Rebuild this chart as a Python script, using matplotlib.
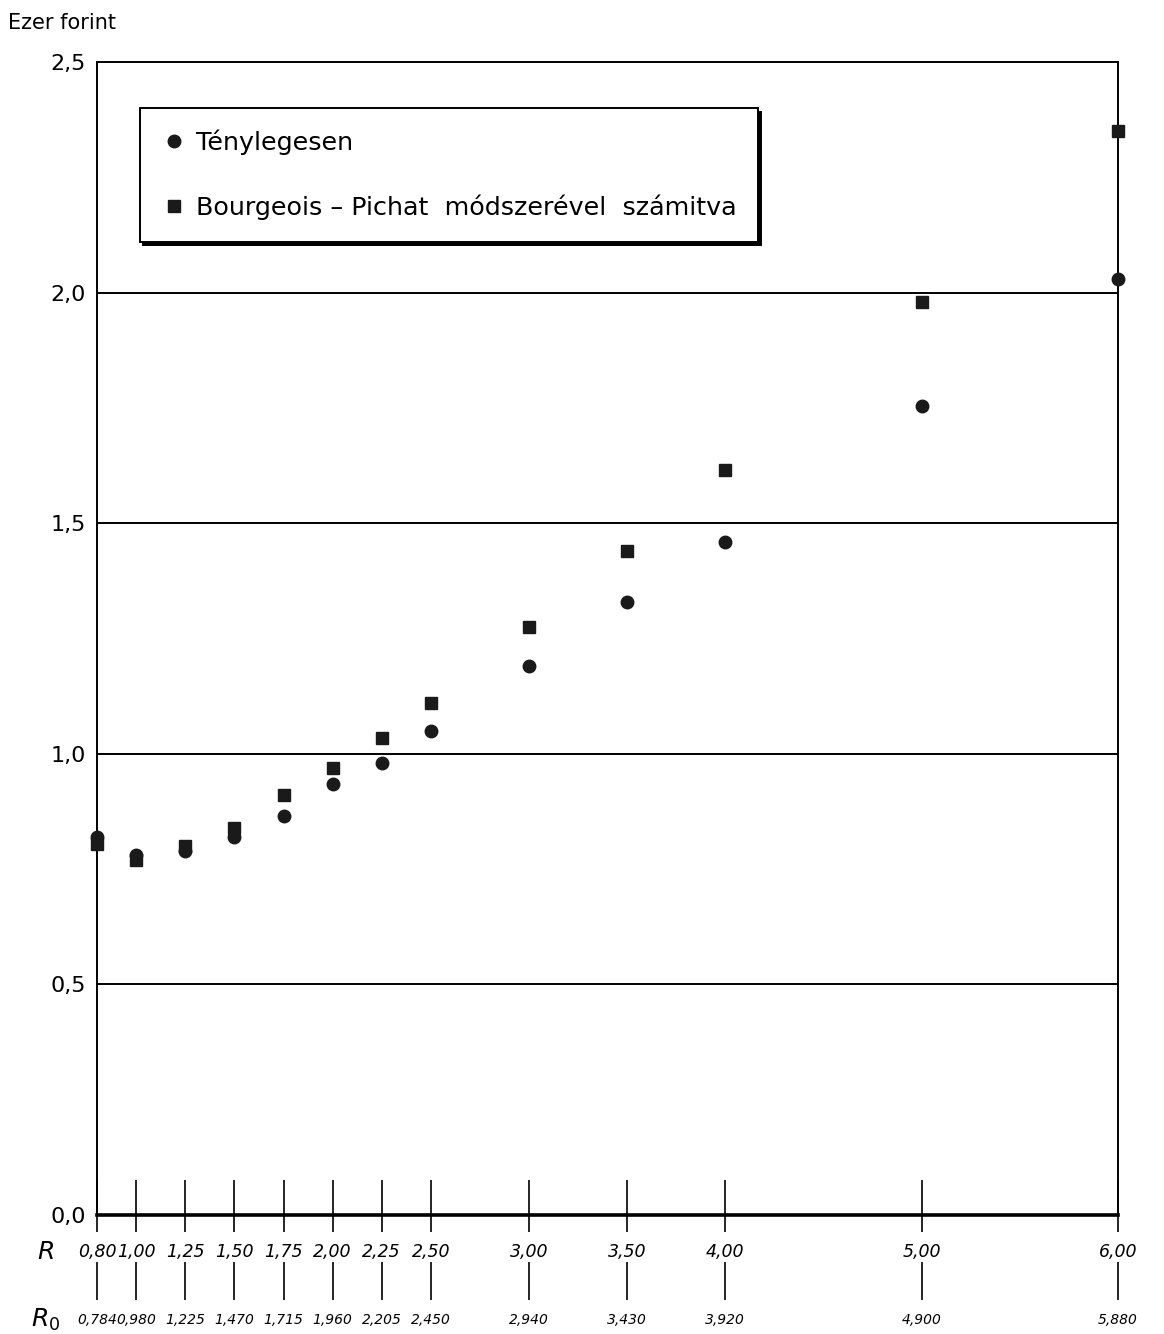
import numpy as np
import matplotlib.pyplot as plt

# R values and the matching R0 values shown under the axis
r_vals = [0.80, 1.00, 1.25, 1.50, 1.75, 2.00, 2.25, 2.50, 3.00, 3.50, 4.00, 5.00, 6.00]
r_labels = ["0,80", "1,00", "1,25", "1,50", "1,75", "2,00", "2,25", "2,50",
            "3,00", "3,50", "4,00", "5,00", "6,00"]
r0_labels = ["0,784", "0,980", "1,225", "1,470", "1,715", "1,960", "2,205", "2,450",
             "2,940", "3,430", "3,920", "4,900", "5,880"]

# cost in thousand forints
actual = [0.82, 0.78, 0.79, 0.82, 0.865, 0.935, 0.98, 1.05, 1.19, 1.33, 1.46, 1.755, 2.03]
bourgeois = [0.805, 0.77, 0.80, 0.84, 0.91, 0.97, 1.035, 1.11, 1.275, 1.44, 1.615, 1.98, 2.35]

y_ticks = [0.0, 0.5, 1.0, 1.5, 2.0, 2.5]
y_labels = ["0,0", "0,5", "1,0", "1,5", "2,0", "2,5"]

fig = plt.figure(figsize=(11.64, 13.34), dpi=100)
ax = fig.add_axes([0.0833, 0.0892, 0.8772, 0.8643])

ax.set_xlim(0.80, 6.00)
ax.set_ylim(0.0, 2.5)

for s in ["left", "right", "top"]:
    ax.spines[s].set_linewidth(1.4)
ax.spines["bottom"].set_linewidth(2.6)

ax.set_yticks(y_ticks)
ax.set_yticklabels(y_labels, fontsize=16)
ax.tick_params(axis="y", length=0, pad=8)
ax.set_xticks([])
for y in y_ticks[1:-1]:
    ax.axhline(y, color="black", lw=1.4, zorder=1)

ax.plot(r_vals, actual, "o", color="#1a1a1a", ms=9, ls="none", clip_on=False, zorder=3)
ax.plot(r_vals, bourgeois, "s", color="#1a1a1a", ms=9, ls="none", clip_on=False, zorder=3)

# two rows of ticks and labels under the axis
tr = ax.get_xaxis_transform()
ax.vlines(r_vals, -0.015, 0.030, transform=tr, color="black", lw=1.2, clip_on=False)
ax.vlines(r_vals, -0.074, -0.041, transform=tr, color="black", lw=1.2, clip_on=False)
for x, a, b in zip(r_vals, r_labels, r0_labels):
    ax.text(x, -0.032, a, transform=tr, ha="center", va="center",
            fontsize=12.5, style="italic")
    ax.text(x, -0.091, b, transform=tr, ha="center", va="center",
            fontsize=10, style="italic")
ax.text(-0.05, -0.032, "R", transform=ax.transAxes, ha="center", va="center",
        fontsize=18, style="italic")
ax.text(-0.05, -0.091, "$R_0$", transform=ax.transAxes, ha="center", va="center",
        fontsize=18)

fig.text(0.007, 0.983, "Ezer forint", fontsize=15, ha="left", va="center")

# legend drawn as a boxed key with a dark drop edge
leg = ax.legend(
    [plt.Line2D([], [], marker="o", color="#1a1a1a", ls="none", ms=9),
     plt.Line2D([], [], marker="s", color="#1a1a1a", ls="none", ms=9)],
    ["Ténylegesen", "Bourgeois \u2013 Pichat  módszerével  számitva"],
    loc="upper left", bbox_to_anchor=(0.042, 0.960), borderaxespad=0,
    fontsize=18.3, frameon=True, fancybox=False, edgecolor="black",
    framealpha=1, labelspacing=1.55, borderpad=0.85, handletextpad=0.35,
    handlelength=1.0,
    shadow={"color": "black", "alpha": 1, "ox": 2.5, "oy": -2.5})
leg.get_frame().set_linewidth(1.4)

fig.savefig("out.png", dpi=100, facecolor="white")
